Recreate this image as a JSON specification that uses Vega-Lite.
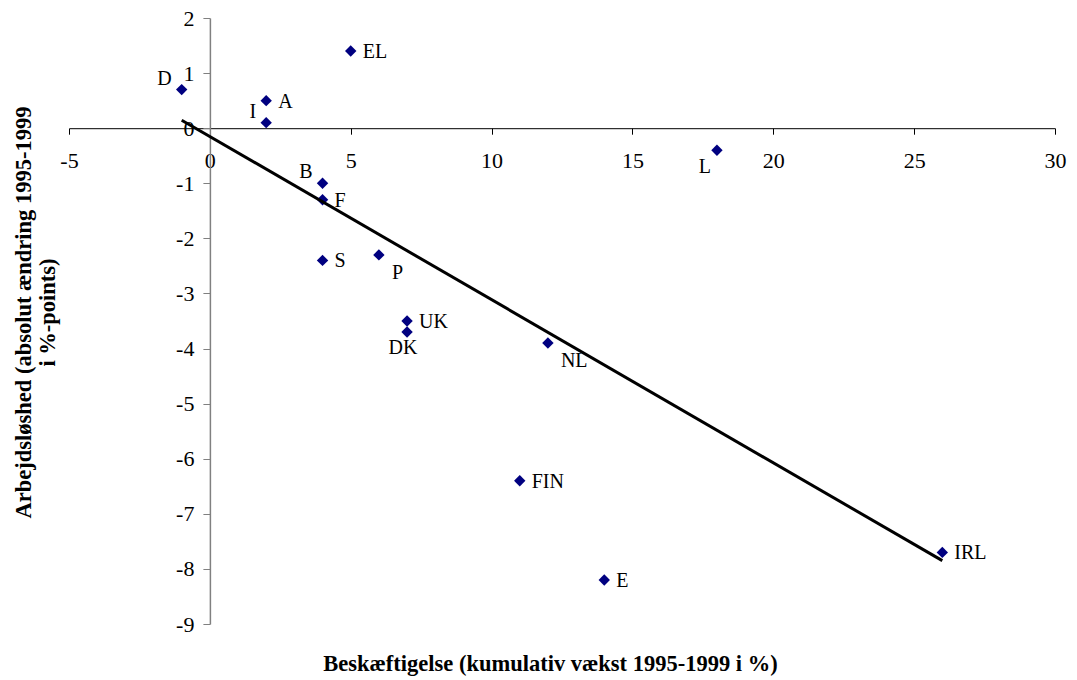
{
  "$schema": "https://vega.github.io/schema/vega-lite/v6.json",
  "width": 986,
  "height": 606,
  "autosize": {"type": "none"},
  "padding": {"left": 69, "top": 18, "right": 22, "bottom": 56},
  "background": "white",
  "config": {
    "view": {"stroke": null},
    "text": {"font": "Liberation Serif", "fontSize": 20, "color": "black"}
  },
  "data": {
    "values": [
      {"land": "D", "beskaeftigelse": -1, "arbejdsloshed": 0.7},
      {"land": "A", "beskaeftigelse": 2, "arbejdsloshed": 0.5},
      {"land": "I", "beskaeftigelse": 2, "arbejdsloshed": 0.1},
      {"land": "EL", "beskaeftigelse": 5, "arbejdsloshed": 1.4},
      {"land": "L", "beskaeftigelse": 18, "arbejdsloshed": -0.4},
      {"land": "B", "beskaeftigelse": 4, "arbejdsloshed": -1.0},
      {"land": "F", "beskaeftigelse": 4, "arbejdsloshed": -1.3},
      {"land": "S", "beskaeftigelse": 4, "arbejdsloshed": -2.4},
      {"land": "P", "beskaeftigelse": 6, "arbejdsloshed": -2.3},
      {"land": "UK", "beskaeftigelse": 7, "arbejdsloshed": -3.5},
      {"land": "DK", "beskaeftigelse": 7, "arbejdsloshed": -3.7},
      {"land": "NL", "beskaeftigelse": 12, "arbejdsloshed": -3.9},
      {"land": "FIN", "beskaeftigelse": 11, "arbejdsloshed": -6.4},
      {"land": "E", "beskaeftigelse": 14, "arbejdsloshed": -8.2},
      {"land": "IRL", "beskaeftigelse": 26, "arbejdsloshed": -7.7}
    ]
  },
  "encoding": {
    "x": {
      "field": "beskaeftigelse",
      "type": "quantitative",
      "scale": {"domain": [-5, 30], "nice": false, "zero": false},
      "axis": {
        "orient": "bottom",
        "offset": -495.8,
        "values": [-5, 0, 5, 10, 15, 20, 25, 30],
        "labelExpr": "replace(datum.label, '\u2212', '-')",
        "grid": false,
        "domainColor": "black",
        "domainWidth": 1,
        "tickColor": "black",
        "tickSize": 6,
        "labelFont": "Liberation Serif",
        "labelFontSize": 22,
        "labelColor": "black",
        "labelPadding": 16,
        "labelOverlap": false,
        "labelFlush": false,
        "title": "Beskæftigelse (kumulativ vækst 1995-1999 i %)",
        "titleFont": "Liberation Serif",
        "titleFontSize": 22.5,
        "titleFontWeight": "bold",
        "titleColor": "black",
        "titleX": 481,
        "titleY": 535,
        "titleAlign": "center",
        "titleBaseline": "middle"
      }
    },
    "y": {
      "field": "arbejdsloshed",
      "type": "quantitative",
      "scale": {"domain": [-9, 2], "nice": false, "zero": false},
      "axis": {
        "orient": "left",
        "offset": -140.9,
        "values": [-9, -8, -7, -6, -5, -4, -3, -2, -1, 0, 1, 2],
        "labelExpr": "replace(datum.label, '\u2212', '-')",
        "grid": false,
        "domainColor": "#808080",
        "domainWidth": 1.5,
        "tickColor": "#808080",
        "tickSize": 7,
        "labelFont": "Liberation Serif",
        "labelFontSize": 22,
        "labelColor": "black",
        "labelPadding": 9,
        "labelOverlap": false,
        "labelFlush": false,
        "title": ["Arbejdsløshed (absolut ændring 1995-1999", "i %-points)"],
        "titleFont": "Liberation Serif",
        "titleFontSize": 22.5,
        "titleFontWeight": "bold",
        "titleColor": "black",
        "titleLineHeight": 24,
        "titleAngle": 270,
        "titleX": -186,
        "titleY": 294,
        "titleAlign": "center",
        "titleBaseline": "middle"
      }
    }
  },
  "layer": [
    {
      "mark": {"type": "point", "shape": "diamond", "filled": true, "size": 130, "color": "#000080", "opacity": 1}
    },
    {
      "transform": [{"filter": {"field": "land", "oneOf": ["A", "EL", "F", "S", "UK", "FIN", "E", "IRL"]}}],
      "mark": {"type": "text", "align": "left", "baseline": "middle", "dx": 12, "dy": 1},
      "encoding": {"text": {"field": "land"}}
    },
    {
      "transform": [{"filter": {"field": "land", "oneOf": ["P", "NL"]}}],
      "mark": {"type": "text", "align": "left", "baseline": "middle", "dx": 13, "dy": 18},
      "encoding": {"text": {"field": "land"}}
    },
    {
      "transform": [{"filter": {"field": "land", "oneOf": ["D", "I", "B"]}}],
      "mark": {"type": "text", "align": "right", "baseline": "middle", "dx": -10, "dy": -11},
      "encoding": {"text": {"field": "land"}}
    },
    {
      "transform": [{"filter": {"field": "land", "equal": "L"}}],
      "mark": {"type": "text", "align": "center", "baseline": "middle", "dx": -12, "dy": 17},
      "encoding": {"text": {"field": "land"}}
    },
    {
      "transform": [{"filter": {"field": "land", "equal": "DK"}}],
      "mark": {"type": "text", "align": "center", "baseline": "middle", "dx": -4, "dy": 16},
      "encoding": {"text": {"field": "land"}}
    },
    {
      "transform": [{"regression": "arbejdsloshed", "on": "beskaeftigelse", "method": "linear"}],
      "mark": {"type": "line", "color": "black", "strokeWidth": 3}
    }
  ]
}
